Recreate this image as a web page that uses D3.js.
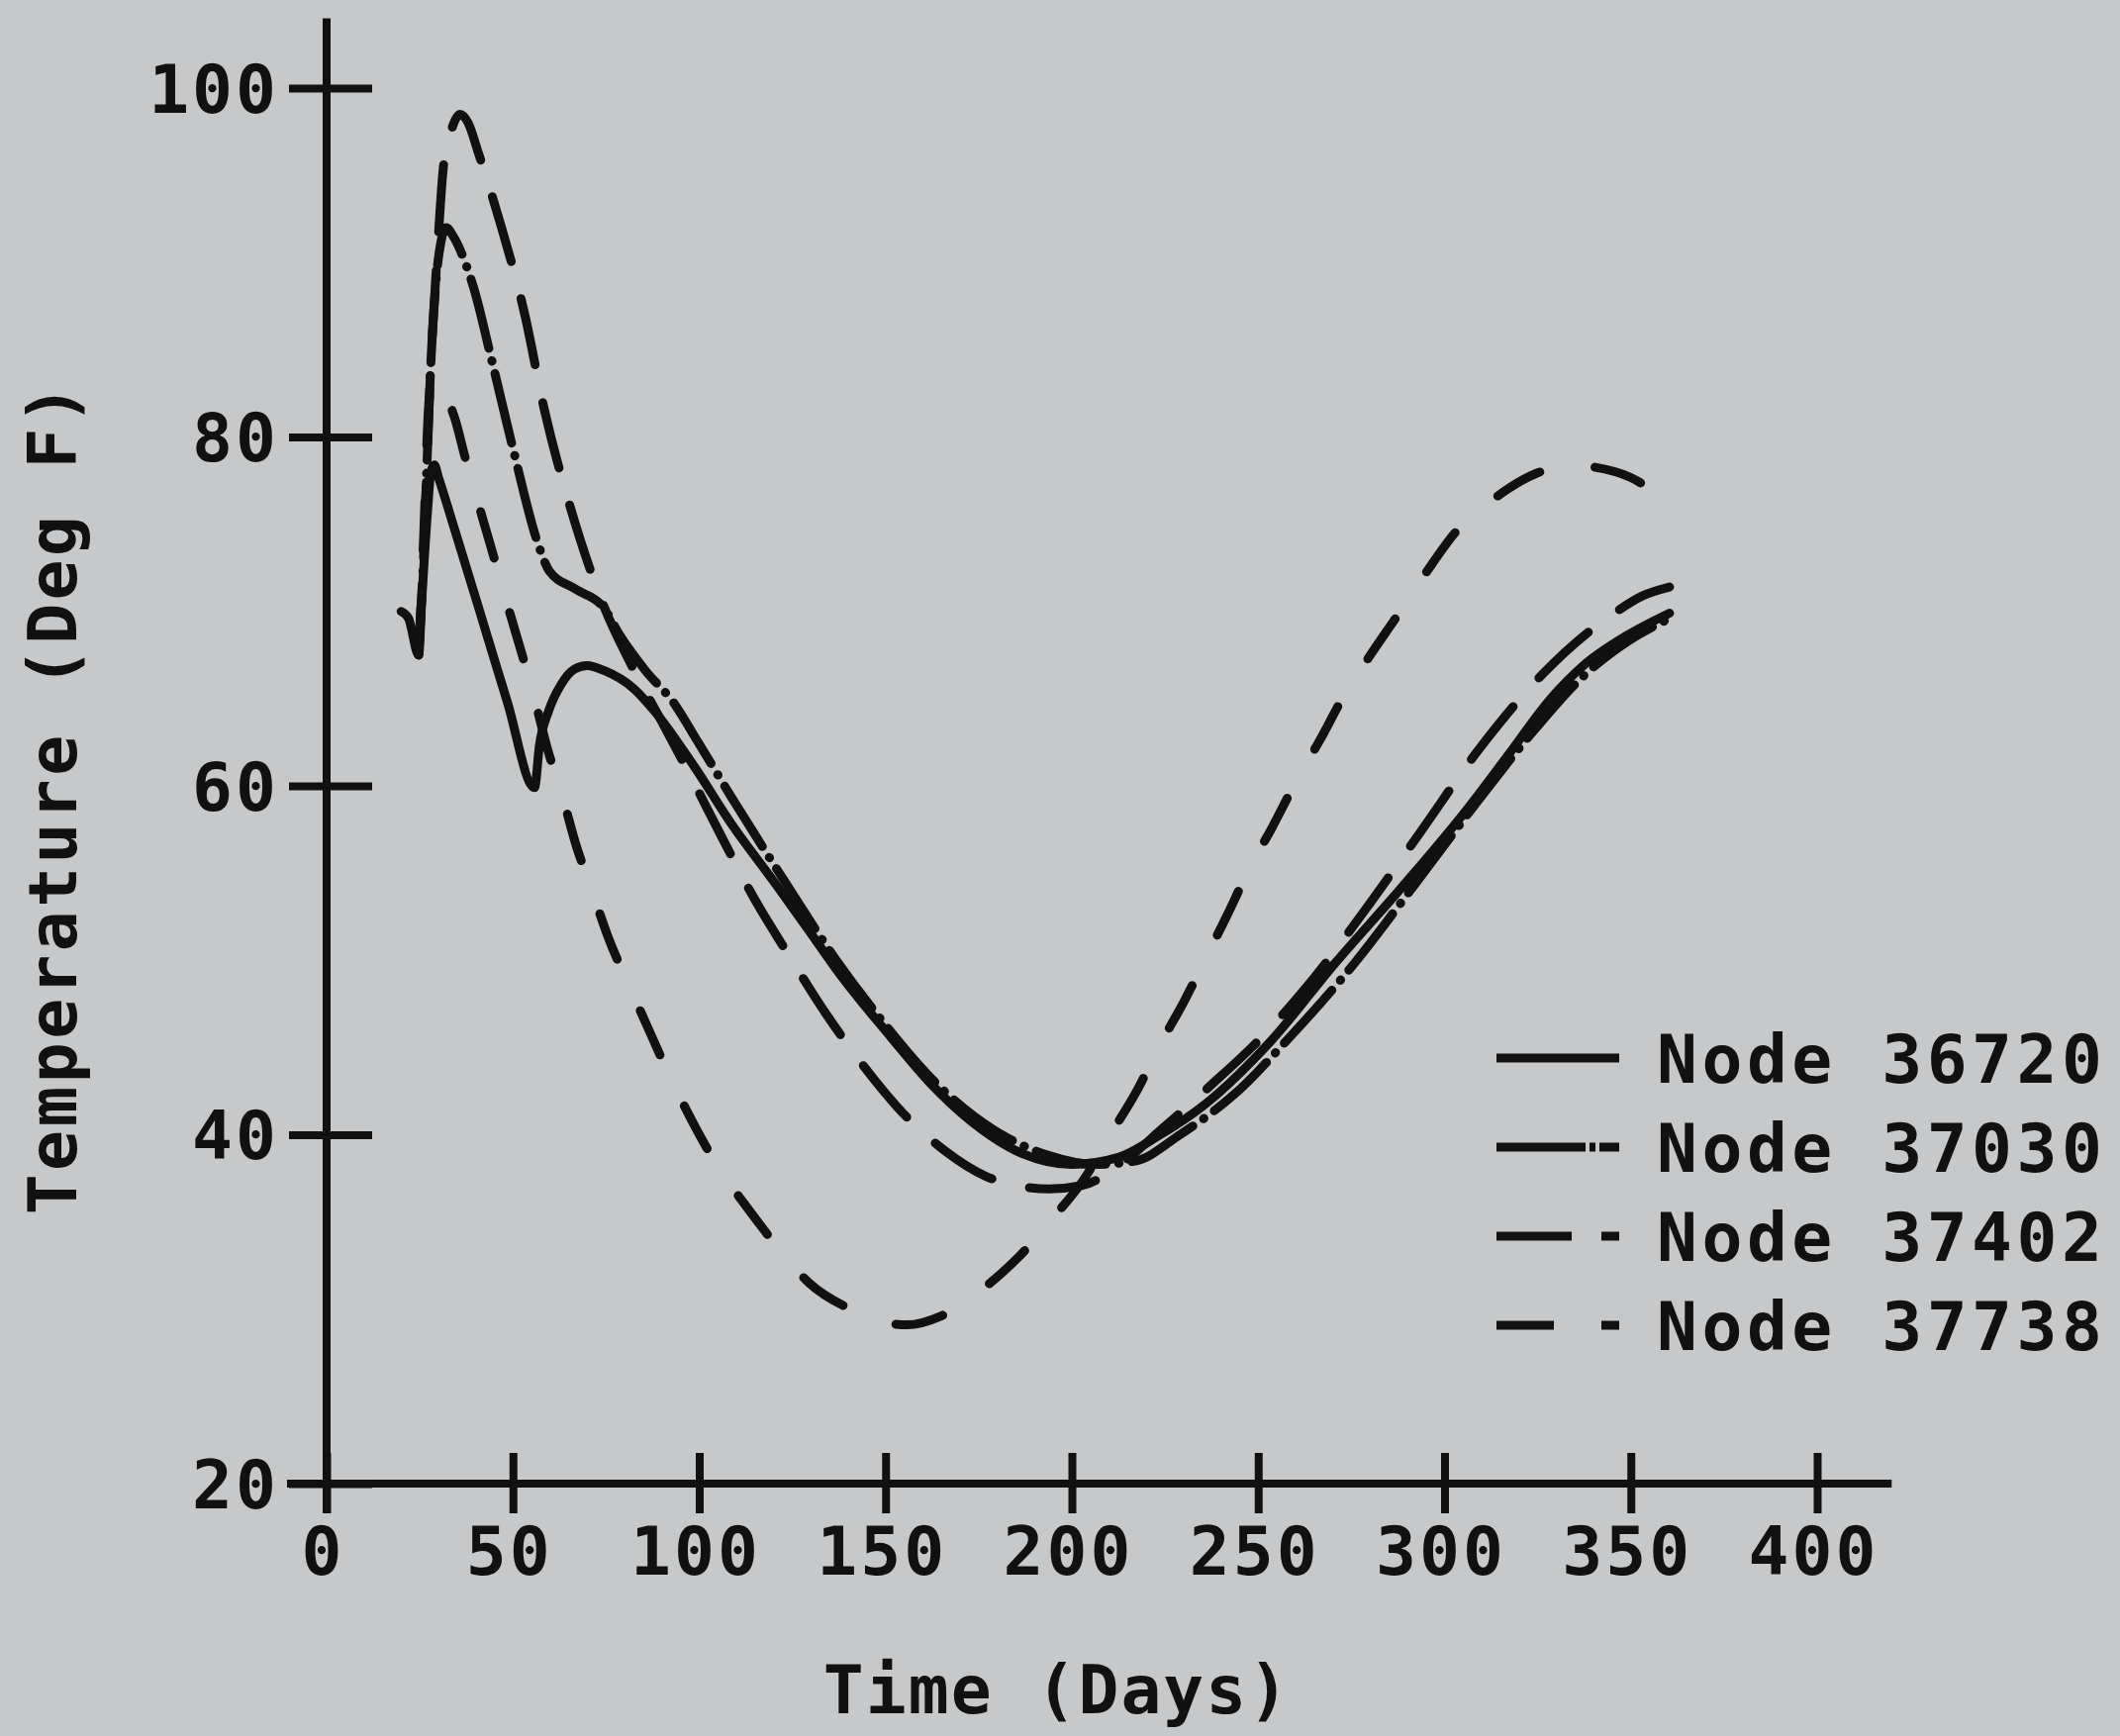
<!DOCTYPE html>
<html>
<head>
<meta charset="utf-8">
<script src="https://cdn.jsdelivr.net/npm/d3@7"></script>
<style>
  body { margin: 0; background: #c6c8c9; }
  text { font-family: "DejaVu Sans Mono", "Liberation Mono", monospace; font-weight: bold; fill: #111; }
</style>
</head>
<body>
<div id="chart"></div>
<script>
// Temperature readings (day, deg F)
const node36720 = [
  [20.0, 70.0], [22.0, 69.6], [24.7, 67.5], [25.5, 70.5], [27.0, 75.5], [28.0, 78.0],
  [28.9, 78.4], [30.0, 77.7], [34.5, 74.6], [41.1, 70.0], [48.5, 64.8], [55.8, 59.9],
  [57.1, 62.3], [59.6, 64.3], [62.9, 65.8], [66.6, 66.7], [69.9, 66.9], [74.6, 66.6],
  [82.3, 65.6], [88.7, 64.1], [98.7, 61.1], [108.7, 57.8], [120.4, 54.4], [128.8, 51.9],
  [138.1, 49.1], [151.4, 45.6], [161.8, 43.0], [173.4, 40.7], [186.9, 38.9], [199.9, 38.3],
  [212.5, 38.7], [223.0, 39.9], [235.5, 41.7], [253.1, 45.3], [270.9, 49.9], [288.6, 54.2],
  [306.2, 58.7], [317.2, 61.8], [328.5, 65.0], [337.3, 66.9], [348.8, 68.6], [360.4, 69.9]
];

const node37030 = [
  [24.7, 67.5], [26.0, 73.0], [27.9, 83.9], [29.3, 88.8], [30.7, 91.2], [32.1, 92.0],
  [34.0, 91.5], [37.2, 90.0], [39.4, 88.6], [44.2, 84.5], [50.4, 79.0], [56.7, 73.9],
  [59.8, 72.3], [66.6, 71.3], [74.4, 70.2], [78.8, 68.6], [85.6, 66.6], [93.0, 64.8],
  [99.7, 62.5], [108.5, 59.4], [122.7, 54.6], [136.8, 50.0], [148.8, 46.6], [163.8, 42.9],
  [178.9, 40.3], [193.9, 38.8], [205.9, 38.3], [217.0, 38.5], [229.0, 40.0], [243.5, 42.3],
  [258.5, 45.6], [276.1, 49.9], [292.2, 54.4], [308.1, 58.9], [324.5, 63.3], [337.3, 66.3],
  [349.3, 68.3], [360.4, 69.6]
];

const node37402 = [
  [24.7, 67.5], [26.0, 73.0], [27.9, 83.9], [29.7, 90.5], [31.4, 95.6], [33.5, 97.6],
  [35.8, 98.5], [38.0, 98.0], [40.7, 96.3], [46.4, 92.4], [53.2, 87.0], [58.5, 81.5],
  [65.5, 75.9], [74.4, 70.3], [81.6, 67.0], [90.4, 63.5], [98.3, 60.3], [106.2, 57.0],
  [114.6, 53.6], [124.3, 50.2], [133.8, 47.0], [143.9, 44.0], [156.2, 40.9], [165.8, 39.1],
  [177.1, 37.6], [184.9, 37.1], [193.9, 36.9], [202.9, 37.1], [213.0, 38.3], [224.0, 40.3],
  [237.1, 42.8], [250.1, 45.4], [263.1, 48.5], [278.4, 52.8], [293.7, 57.4], [308.9, 62.0],
  [326.3, 66.4], [346.2, 70.0], [353.2, 70.9], [360.4, 71.4]
];

const node37738 = [
  [24.7, 67.5], [26.0, 74.0], [27.3, 81.5], [28.3, 83.3], [30.0, 83.1], [32.0, 82.4],
  [34.5, 81.0], [37.2, 78.8], [41.1, 75.9], [44.5, 73.4], [47.8, 70.9], [51.4, 68.3],
  [55.8, 65.0], [59.3, 62.1], [63.3, 59.4], [66.8, 56.7], [71.2, 54.0], [75.6, 51.3],
  [81.5, 48.4], [86.5, 46.0], [92.2, 43.3], [97.8, 40.9], [105.2, 38.1], [112.6, 35.9],
  [120.1, 33.8], [129.5, 31.5], [140.6, 30.0], [148.8, 29.3], [155.8, 29.1], [164.8, 29.6],
  [176.9, 31.3], [186.2, 33.1], [195.6, 35.4], [203.1, 37.4], [210.3, 40.0], [217.4, 42.5],
  [223.5, 45.1], [230.0, 47.6], [235.9, 50.1], [241.7, 52.6], [247.5, 55.2], [253.7, 57.6],
  [260.3, 60.3], [266.5, 62.6], [273.1, 65.2], [280.1, 67.5], [287.8, 69.9], [295.3, 72.3],
  [303.2, 74.6], [312.9, 76.4], [324.5, 77.9], [333.8, 78.4], [339.3, 78.3], [349.7, 77.7],
  [360.4, 76.2]
];

const seriesNames = ["Node 36720", "Node 37030", "Node 37402", "Node 37738"];
const xTicks = [0, 50, 100, 150, 200, 250, 300, 350, 400];
const yTicks = [20, 40, 60, 80, 100];

document.addEventListener("DOMContentLoaded", function () {
  const width = 2142;
  const height = 1754;

  const series = [node36720, node37030, node37402, node37738];
  // plotter line styles: solid, dash-dot, long dash, short dash
  const dashes = [null, "72,13,0.5,13", "68,39", "49,57"];

  const svg = d3
    .select("#chart")
    .append("svg")
    .attr("width", width)
    .attr("height", height);

  svg.append("rect")
    .attr("width", width)
    .attr("height", height)
    .attr("fill", "#c6c8c9");

  const x = d3.scaleLinear().domain([0, 400]).range([330, 1836]);
  const y = d3.scaleLinear().domain([20, 100]).range([1499, 89]);

  const ink = "#111";

  // Axis lines
  svg.append("line")
    .attr("x1", x(0)).attr("x2", x(0))
    .attr("y1", y(104)).attr("y2", y(20) + 30)
    .attr("stroke", ink).attr("stroke-width", 8);

  svg.append("line")
    .attr("x1", x(0) - 40).attr("x2", x(420))
    .attr("y1", y(20)).attr("y2", y(20))
    .attr("stroke", ink).attr("stroke-width", 8);

  // X axis ticks (crossing the axis line)
  const xAxis = svg.append("g")
    .attr("transform", `translate(0,${y(20) - 31})`)
    .call(d3.axisBottom(x).tickValues(xTicks).tickSize(61).tickFormat(d3.format("d")));
  xAxis.select(".domain").remove();
  xAxis.selectAll(".tick line").attr("stroke", ink).attr("stroke-width", 8);
  xAxis.selectAll(".tick text")
    .attr("x", -4)
    .attr("y", 123).attr("dy", null)
    .attr("font-size", 68)
    .attr("letter-spacing", 3)
    .attr("font-family", null)
    .attr("fill", ink);

  // Y axis ticks
  const yAxis = svg.append("g")
    .attr("transform", `translate(${x(0) + 46},0)`)
    .call(d3.axisLeft(y).tickValues(yTicks).tickSize(84).tickPadding(10));
  yAxis.select(".domain").remove();
  yAxis.selectAll(".tick line").attr("stroke", ink).attr("stroke-width", 8);
  yAxis.selectAll(".tick text")
    .attr("dy", "0.36em")
    .attr("font-size", 68)
    .attr("letter-spacing", 3)
    .attr("font-family", null)
    .attr("fill", ink);

  // Axis titles
  svg.append("text")
    .attr("x", 1068)
    .attr("y", 1731)
    .attr("text-anchor", "middle")
    .attr("font-size", 68)
    .attr("letter-spacing", 2)
    .text("Time (Days)");

  svg.append("text")
    .attr("transform", "translate(77,806) rotate(-90)")
    .attr("text-anchor", "middle")
    .attr("font-size", 68)
    .attr("letter-spacing", 3.4)
    .text("Temperature (Deg F)");

  // Curves
  const line = d3.line()
    .x((d) => x(d[0]))
    .y((d) => y(d[1]))
    .curve(d3.curveMonotoneX);

  svg.append("g")
    .selectAll("path")
    .data(series)
    .join("path")
    .attr("d", line)
    .attr("fill", "none")
    .attr("stroke", ink)
    .attr("stroke-width", 9)
    .attr("stroke-linecap", "round")
    .attr("stroke-linejoin", "round")
    .attr("stroke-dasharray", (d, i) => dashes[i]);

  // Legend
  const legend = svg.append("g")
    .selectAll("g")
    .data(seriesNames)
    .join("g")
    .attr("transform", (d, i) => `translate(0,${1069 + i * 90})`);

  legend.append("line")
    .attr("x1", 1512).attr("x2", 1636)
    .attr("stroke", ink)
    .attr("stroke-width", 9)
    .attr("stroke-linecap", "butt")
    .attr("stroke-dasharray", (d, i) => ["200", "90,4,6,4,40", "76,30,40", "58,48,40"][i]);

  legend.append("text")
    .attr("x", 1674)
    .attr("y", 25)
    .attr("font-size", 68)
    .attr("letter-spacing", 4.5)
    .text((d) => d);
});
</script>
</body>
</html>
